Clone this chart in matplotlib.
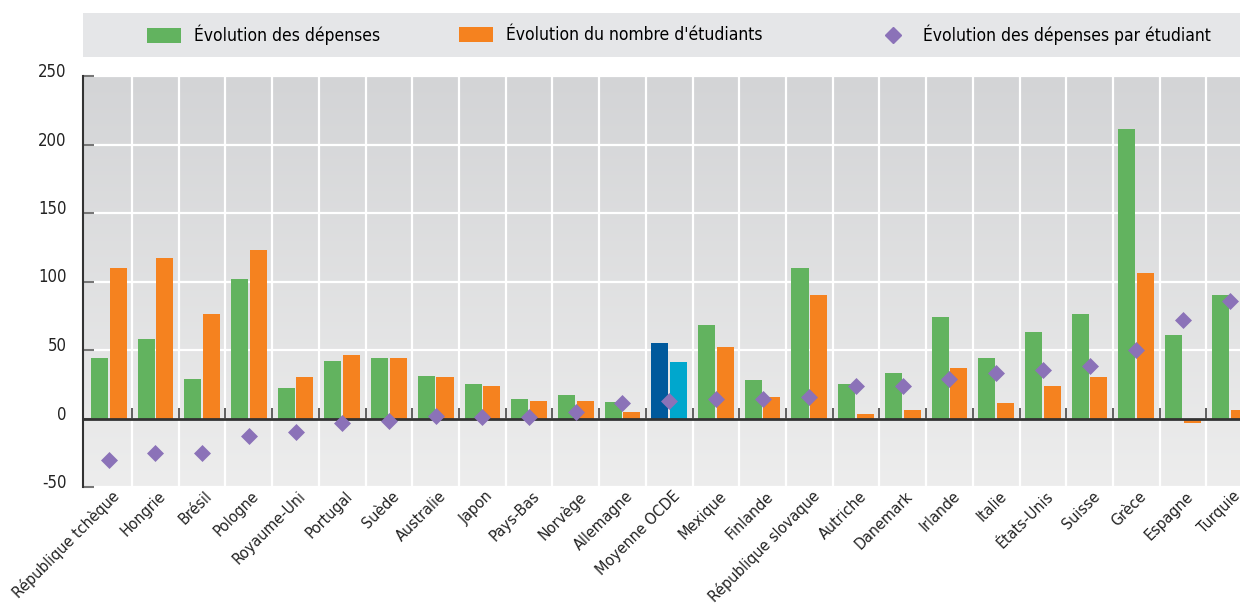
import numpy as np
import matplotlib
matplotlib.use("Agg")
import matplotlib.pyplot as plt
from matplotlib.patches import Patch, Rectangle
from matplotlib.lines import Line2D
from matplotlib.transforms import ScaledTranslation

plt.rcParams['font.family'] = ['DejaVu Sans']
plt.rcParams['font.stretch'] = 'condensed'
plt.rcParams['axes.unicode_minus'] = False

countries = ["République tchèque", "Hongrie", "Brésil", "Pologne", "Royaume-Uni",
             "Portugal", "Suède", "Australie", "Japon", "Pays-Bas", "Norvège",
             "Allemagne", "Moyenne OCDE", "Mexique", "Finlande", "République slovaque",
             "Autriche", "Danemark", "Irlande", "Italie", "États-Unis", "Suisse",
             "Grèce", "Espagne", "Turquie"]
depenses = [44.5, 58, 28.5, 101.5, 22, 42, 44, 31, 25, 14.5, 17, 11.7, 55,
            68, 28, 109.5, 25.5, 33, 74, 44, 63, 76, 211.5, 61, 90.5]
etudiants = [109.5, 117.5, 76, 123, 30, 46, 44.5, 30.5, 23.5, 12.5, 12.5, 5, 41,
             52.5, 16, 90, 3, 6.5, 36.5, 11, 23.5, 30.5, 106.5, -3.5, 6]
par_etudiant = [-30, -25.5, -25.5, -12.5, -9.5, -3, -2, 1.5, 1, 1, 5, 11, 12.5,
                14.5, 14, 16, 24, 24, 28.5, 33, 35.5, 38, 50, 72, 86]
yticks = [-50, 0, 50, 100, 150, 200, 250]

GREEN = "#62b35f"
ORANGE = "#f5821f"
PURPLE = "#8b72b8"
DARKBLUE = "#00599c"
LIGHTBLUE = "#00a7cd"

fig = plt.figure(figsize=(12.4, 6.07), dpi=100)
W, H = 1240, 607
ax = fig.add_axes([83 / W, 1 - 487 / H, (1240 - 83) / W, (487 - 76) / H])

x = np.arange(len(countries))
c1 = [DARKBLUE if c == "Moyenne OCDE" else GREEN for c in countries]
c2 = [LIGHTBLUE if c == "Moyenne OCDE" else ORANGE for c in countries]

# background gradient
grad = np.linspace(0, 1, 256).reshape(-1, 1)
cmap = matplotlib.colors.LinearSegmentedColormap.from_list("bg", ["#d3d4d6", "#ededed"])
ax.imshow(grad, extent=[0, 1, 0, 1], transform=ax.transAxes, aspect="auto",
          cmap=cmap, zorder=0)

ax.set_xlim(-0.55, len(countries) - 1 + 0.22)
ax.set_ylim(-50, 250)

# grid
for yv in yticks:
    ax.axhline(yv, color="white", lw=1.6, zorder=1)
for b in x[:-1] + 0.5:
    ax.axvline(b, color="white", lw=1.6, zorder=1)

ax.bar(x - 0.2, depenses, width=0.365, color=c1, zorder=2)
ax.bar(x + 0.2, etudiants, width=0.365, color=c2, zorder=2)
ax.axhline(0, color="#333333", lw=2, zorder=3)
ax.vlines(x[:-1] + 0.5, 0, 8, color="#444444", lw=1.2, zorder=3)
ax.scatter(x, par_etudiant, marker="D", s=75, color=PURPLE, zorder=4, linewidths=0)

for s in ["top", "right", "bottom"]:
    ax.spines[s].set_visible(False)
ax.spines["left"].set_color("#333333")
ax.spines["left"].set_linewidth(1.5)
ax.spines["left"].set_zorder(5)

ax.set_yticks(yticks)
ax.tick_params(axis="y", direction="in", length=8, width=1.5, color="#777777",
               labelsize=12, pad=12, labelcolor="#222222")
for lab in ax.get_yticklabels():
    lab.set_transform(lab.get_transform() + ScaledTranslation(0, 0.06, fig.dpi_scale_trans))

ax.set_xticks(x)
ax.set_xticklabels(countries, rotation=45, ha="right", va="center",
                   rotation_mode="anchor", fontsize=11.5, color="#222222")
ax.tick_params(axis="x", length=0, pad=5)
for lab in ax.get_xticklabels():
    lab.set_transform(lab.get_transform() + ScaledTranslation(0.08, 0, fig.dpi_scale_trans))

# legend band
fig.patches.append(Rectangle((83 / W, 1 - 57 / H), (1240 - 83) / W, 44 / H,
                             transform=fig.transFigure, facecolor="#e5e6e8",
                             edgecolor="none", zorder=0))
entries = [
    (Patch(facecolor=GREEN), "Évolution des dépenses", 147),
    (Patch(facecolor=ORANGE), "Évolution du nombre d'étudiants", 459),
    (Line2D([], [], marker="D", color=PURPLE, ls="none", markersize=8), "Évolution des dépenses par étudiant", 876),
]
for h, lbl, px in entries:
    fig.legend([h], [lbl], loc="center left", bbox_to_anchor=(px / W, 1 - 35 / H),
               frameon=False, fontsize=12.5, handlelength=1.95, handleheight=0.95,
               handletextpad=0.75, borderpad=0, borderaxespad=0)

fig.savefig("out.png", dpi=100)
